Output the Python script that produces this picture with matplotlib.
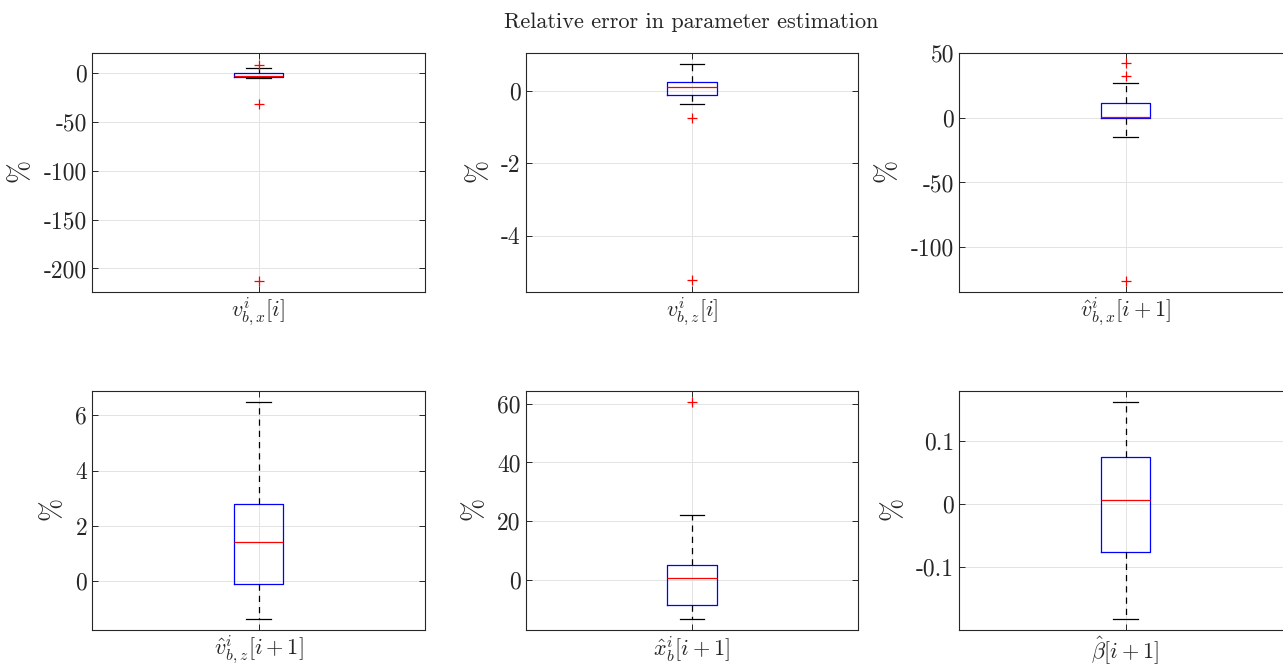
import numpy as np
import matplotlib
matplotlib.use('Agg')
import matplotlib.pyplot as plt
from matplotlib.ticker import FuncFormatter

plt.rcParams['font.family'] = 'serif'
plt.rcParams['font.serif'] = ['cmr10', 'DejaVu Serif']
plt.rcParams['mathtext.fontset'] = 'cm'
plt.rcParams['axes.unicode_minus'] = False
plt.rcParams['axes.formatter.use_mathtext'] = False

# box labels (one box per panel)
labels = [r'$v^i_{b,x}[i]$', r'$v^i_{b,z}[i]$', r'$\hat{v}^i_{b,x}[i+1]$',
          r'$\hat{v}^i_{b,z}[i+1]$', r'$\hat{x}^i_b[i+1]$', r'$\hat{\beta}[i+1]$']

# box statistics (%)
med = [-3.6, 0.09, 0.5, 1.41, 0.6, 0.0068]
q1 = [-4.6, -0.12, -0.5, -0.1, -8.6, -0.076]
q3 = [-0.3, 0.23, 11.1, 2.78, 5.0, 0.074]
whislo = [-6.0, -0.37, -14.7, -1.37, -13.5, -0.182]
whishi = [4.4, 0.74, 27.1, 6.47, 22.1, 0.161]
fliers = [[8.2, -31.6, -213.0], [-0.76, -5.24], [42.4, 32.6, -126.0], [], [60.5], []]

ylims = [(-224, 20), (-5.56, 1.04), (-134.6, 50), (-1.76, 6.88), (-17.2, 64.4), (-0.199, 0.179)]
yticks = [[-200, -150, -100, -50, 0], [-4, -2, 0], [-100, -50, 0, 50],
          [0, 2, 4, 6], [0, 20, 40, 60], [-0.1, 0, 0.1]]

W, H = 1283, 664
fig = plt.figure(figsize=(W / 100, H / 100), dpi=100)

lefts = [92, 525.5, 959]
tops = [53, 391]
aw, ah = 333, 239
dark = '#262626'

for k in range(6):
    r, c = divmod(k, 3)
    ax = fig.add_axes([lefts[c] / W, 1 - (tops[r] + ah) / H, aw / W, ah / H])
    stats = [dict(med=med[k], q1=q1[k], q3=q3[k], whislo=whislo[k], whishi=whishi[k],
                  fliers=fliers[k], label=labels[k])]
    ax.bxp(stats, positions=[1], widths=0.15, showfliers=True,
           boxprops=dict(color='blue', linewidth=0.9),
           medianprops=dict(color='red', linewidth=0.9),
           whiskerprops=dict(color='black', linestyle=(0, (5, 4)), linewidth=0.9),
           capprops=dict(color='black', linewidth=0.9),
           flierprops=dict(marker='+', markeredgecolor='red', markersize=7,
                           markeredgewidth=0.9, linestyle='none'))
    ax.set_xlim(0.5, 1.5)
    ax.set_ylim(*ylims[k])
    ax.set_yticks(yticks[k])
    ax.yaxis.set_major_formatter(FuncFormatter(lambda v, p: '%g' % v))
    ax.grid(True, color='#e3e3e3', linewidth=0.7)
    ax.set_axisbelow(True)
    ax.tick_params(axis='both', direction='in', length=4, width=0.7, colors=dark,
                   labelcolor=dark, right=True, top=True, labelsize=17)
    ax.tick_params(axis='x', labelsize=16, pad=3)
    for s in ax.spines.values():
        s.set_color(dark)
        s.set_linewidth(0.8)
    ax.set_ylabel(r'$\%$', fontsize=20, color=dark, labelpad=6)

fig.text(691.5 / W, 1 - 22 / H, 'Relative error in parameter estimation',
         ha='center', va='center', fontsize=16, color=dark)

fig.savefig('out.png', dpi=100)
